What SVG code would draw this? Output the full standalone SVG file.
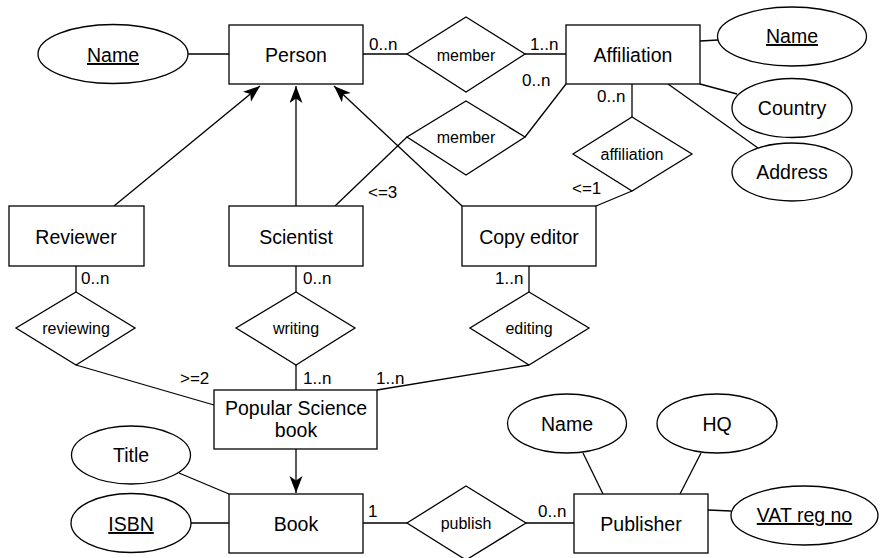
<svg xmlns="http://www.w3.org/2000/svg" width="880" height="558" viewBox="0 0 880 558">
  <style>
    .shape { fill: #ffffff; stroke: #000000; stroke-width: 1.3; }
    .edge { fill: none; stroke: #000000; stroke-width: 1.3; }
    text { font-family: "Liberation Sans", Arial, Helvetica, sans-serif; fill: #000000; }
    .ent { font-size: 19.5px; text-anchor: middle; }
    .rel { font-size: 16px; text-anchor: middle; }
    .card { font-size: 17px; }
    .key { text-decoration: underline; }
  </style>
  <defs>
    <marker id="arrow" markerUnits="userSpaceOnUse" markerWidth="18" markerHeight="14" refX="17" refY="6.5" orient="auto">
      <path d="M0,0 L17,6.5 L0,13 L4.5,6.5 Z" fill="#000000"/>
    </marker>
  </defs>

  <!-- connectors -->
  <g id="connectors">
    <line class="edge" x1="188" y1="54" x2="229" y2="54"/>
    <line class="edge" x1="363" y1="54" x2="407" y2="54"/>
    <line class="edge" x1="525" y1="54" x2="566" y2="54"/>
    <line class="edge" x1="700" y1="41" x2="718" y2="40"/>
    <line class="edge" x1="700" y1="84" x2="737" y2="94"/>
    <line class="edge" x1="668" y1="84" x2="758" y2="148"/>
    <line class="edge" x1="525" y1="137" x2="566" y2="84"/>
    <line class="edge" x1="407" y1="137" x2="335" y2="206"/>
    <line class="edge" x1="632" y1="84" x2="632" y2="117"/>
    <line class="edge" x1="632" y1="191" x2="596" y2="206"/>
    <line class="edge" x1="114" y1="206" x2="260" y2="86" marker-end="url(#arrow)"/>
    <line class="edge" x1="296" y1="206" x2="296" y2="86" marker-end="url(#arrow)"/>
    <line class="edge" x1="462" y1="206" x2="334" y2="86" marker-end="url(#arrow)"/>
    <line class="edge" x1="76" y1="266" x2="76" y2="292"/>
    <line class="edge" x1="296" y1="266" x2="296" y2="292"/>
    <line class="edge" x1="529" y1="266" x2="529" y2="292"/>
    <line class="edge" x1="76" y1="365" x2="214" y2="405"/>
    <line class="edge" x1="296" y1="365" x2="296" y2="390"/>
    <line class="edge" x1="529" y1="365" x2="377" y2="390"/>
    <line class="edge" x1="296" y1="449" x2="296" y2="493" marker-end="url(#arrow)"/>
    <line class="edge" x1="179" y1="473" x2="229" y2="494"/>
    <line class="edge" x1="191" y1="523" x2="229" y2="523"/>
    <line class="edge" x1="363" y1="523" x2="407" y2="523"/>
    <line class="edge" x1="526" y1="523" x2="574" y2="523"/>
    <line class="edge" x1="583" y1="453" x2="603" y2="494"/>
    <line class="edge" x1="701" y1="453" x2="680" y2="494"/>
    <line class="edge" x1="708" y1="510" x2="731" y2="511"/>
  </g>

  <!-- cardinalities -->
  <g id="cardinalities" class="card">
    <text x="369" y="50">0..n</text>
    <text x="530" y="50">1..n</text>
    <text x="522" y="86">0..n</text>
    <text x="597" y="102">0..n</text>
    <text x="572" y="194">&lt;=1</text>
    <text x="368" y="198">&lt;=3</text>
    <text x="81" y="284">0..n</text>
    <text x="303" y="284">0..n</text>
    <text x="495" y="284">1..n</text>
    <text x="180" y="384">&gt;=2</text>
    <text x="303" y="384">1..n</text>
    <text x="376" y="384">1..n</text>
    <text x="368" y="517">1</text>
    <text x="538" y="517">0..n</text>
  </g>

  <!-- entities -->
  <g id="person">
    <rect class="shape" x="229" y="25" width="134" height="59"/>
    <text class="ent" x="296" y="62">Person</text>
  </g>
  <g id="affiliation">
    <rect class="shape" x="566" y="25" width="134" height="59"/>
    <text class="ent" x="633" y="62">Affiliation</text>
  </g>
  <g id="reviewer">
    <rect class="shape" x="9" y="206" width="135" height="60"/>
    <text class="ent" x="76" y="244">Reviewer</text>
  </g>
  <g id="scientist">
    <rect class="shape" x="229" y="206" width="134" height="60"/>
    <text class="ent" x="296" y="244">Scientist</text>
  </g>
  <g id="copy-editor">
    <rect class="shape" x="462" y="206" width="134" height="60"/>
    <text class="ent" x="529" y="244">Copy editor</text>
  </g>
  <g id="popular-science-book">
    <rect class="shape" x="214" y="390" width="163" height="59"/>
    <text class="ent" x="296" y="415">Popular Science</text>
    <text class="ent" x="296" y="437">book</text>
  </g>
  <g id="book">
    <rect class="shape" x="229" y="494" width="134" height="59"/>
    <text class="ent" x="296" y="531">Book</text>
  </g>
  <g id="publisher">
    <rect class="shape" x="574" y="494" width="134" height="59"/>
    <text class="ent" x="641" y="531">Publisher</text>
  </g>

  <!-- relationships -->
  <g id="rel-member-1">
    <polygon class="shape" points="466,17 525,54 466,92 407,54"/>
    <text class="rel" x="466" y="61">member</text>
  </g>
  <g id="rel-member-2">
    <polygon class="shape" points="466,101 525,137 466,175 407,137"/>
    <text class="rel" x="466" y="143">member</text>
  </g>
  <g id="rel-affiliation">
    <polygon class="shape" points="632,117 692,154 632,191 573,154"/>
    <text class="rel" x="632" y="160">affiliation</text>
  </g>
  <g id="rel-reviewing">
    <polygon class="shape" points="76,292 135,328 76,365 16,328"/>
    <text class="rel" x="76" y="334">reviewing</text>
  </g>
  <g id="rel-writing">
    <polygon class="shape" points="296,292 355,328 296,365 236,328"/>
    <text class="rel" x="296" y="334">writing</text>
  </g>
  <g id="rel-editing">
    <polygon class="shape" points="529,292 589,328 529,365 470,328"/>
    <text class="rel" x="529" y="334">editing</text>
  </g>
  <g id="rel-publish">
    <polygon class="shape" points="466,486 526,523 466,560 407,523"/>
    <text class="rel" x="466" y="529">publish</text>
  </g>

  <!-- attributes -->
  <g id="attr-person-name">
    <ellipse class="shape" cx="113" cy="54" rx="75" ry="29.5"/>
    <text class="ent key" x="113" y="62">Name</text>
  </g>
  <g id="attr-affiliation-name">
    <ellipse class="shape" cx="792" cy="36.5" rx="74.5" ry="29.5"/>
    <text class="ent key" x="792" y="43">Name</text>
  </g>
  <g id="attr-country">
    <ellipse class="shape" cx="792" cy="108" rx="60" ry="29.5"/>
    <text class="ent" x="792" y="115">Country</text>
  </g>
  <g id="attr-address">
    <ellipse class="shape" cx="792" cy="172" rx="60" ry="29"/>
    <text class="ent" x="792" y="179">Address</text>
  </g>
  <g id="attr-title">
    <ellipse class="shape" cx="131" cy="455" rx="59.5" ry="29"/>
    <text class="ent" x="131" y="462">Title</text>
  </g>
  <g id="attr-isbn">
    <ellipse class="shape" cx="131" cy="523" rx="60" ry="29.5"/>
    <text class="ent key" x="131" y="531">ISBN</text>
  </g>
  <g id="attr-publisher-name">
    <ellipse class="shape" cx="567" cy="423.5" rx="59.5" ry="29.5"/>
    <text class="ent" x="567" y="431">Name</text>
  </g>
  <g id="attr-hq">
    <ellipse class="shape" cx="717" cy="423.5" rx="60" ry="29.5"/>
    <text class="ent" x="717" y="431">HQ</text>
  </g>
  <g id="attr-vat">
    <ellipse class="shape" cx="804.5" cy="515.5" rx="73.5" ry="29.5"/>
    <text class="ent key" x="804.5" y="522">VAT reg no</text>
  </g>
</svg>
